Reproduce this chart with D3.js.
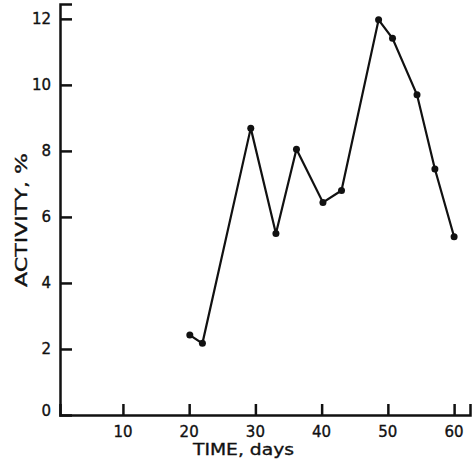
<!DOCTYPE html>
<html>
<head>
<meta charset="utf-8">
<script src="https://cdn.jsdelivr.net/npm/d3@7"></script>
<style>
body{margin:0;background:#fff;}
text{font-family:"DejaVu Sans",Arial,sans-serif;fill:#111;stroke:#111;stroke-width:0.35px;}
</style>
</head>
<body>
<div id="chart"></div>
<script>
// time (days) and activity (%)
var days = [20.1, 22.0, 29.3, 33.1, 36.2, 40.2, 43.0, 48.6, 50.7, 54.4, 57.1, 60.0];
var activity = [2.42, 2.17, 8.69, 5.5, 8.05, 6.44, 6.8, 11.97, 11.41, 9.7, 7.45, 5.4];
var xTicks = [10, 20, 30, 40, 50, 60];
var yTicks = [0, 2, 4, 6, 8, 10, 12];

var w = 473, h = 465;

var x = d3.scaleLinear().domain([0.5, 62.4]).range([60, 470]);
var y = d3.scaleLinear().domain([0, 12.45]).range([415, 4]);

var svg = d3.select("#chart").append("svg")
	.attr("width", w)
	.attr("height", h);

// axes: ticks point inward
var xAxis = svg.append("g")
	.attr("transform", "translate(0," + y(0) + ")")
	.call(d3.axisTop(x).tickValues(xTicks).tickSize(11).tickFormat(""));
xAxis.select(".domain").attr("stroke", "#111").attr("stroke-width", 2.5);
xAxis.selectAll(".tick line").attr("stroke", "#111").attr("stroke-width", 2.5);

var yAxis = svg.append("g")
	.attr("transform", "translate(" + x(0.5) + ",0)")
	.call(d3.axisRight(y).tickValues(yTicks.filter(function(d){return d > 0})).tickSize(12).tickFormat(""));
yAxis.select(".domain").attr("stroke", "#111").attr("stroke-width", 2.5);
yAxis.selectAll(".tick line").attr("stroke", "#111").attr("stroke-width", 2.5);

// tick labels
svg.selectAll(".xl").data(xTicks).enter().append("text")
	.attr("x", function(d){return x(d)})
	.attr("y", 437)
	.attr("text-anchor", "middle")
	.style("font-size", "15px")
	.text(function(d){return d});

svg.selectAll(".yl").data(yTicks).enter().append("text")
	.attr("x", 51)
	.attr("y", function(d){return d == 0 ? y(d) + 1 : y(d) + 5})
	.attr("text-anchor", "end")
	.style("font-size", "15px")
	.text(function(d){return d});

svg.append("text")
	.attr("x", 193).attr("y", 455)
	.attr("textLength", 101)
	.attr("lengthAdjust", "spacingAndGlyphs")
	.style("font-size", "16px")
	.text("TIME, days");

svg.append("text")
	.attr("transform", "translate(27,287) rotate(-90)")
	.attr("textLength", 134)
	.attr("lengthAdjust", "spacingAndGlyphs")
	.style("font-size", "15px")
	.text("ACTIVITY, %");

var pts = d3.zip(days, activity);

svg.append("path")
	.datum(pts)
	.attr("fill", "none")
	.attr("stroke", "#111")
	.attr("stroke-width", 2.2)
	.attr("d", d3.line().x(function(d){return x(d[0])}).y(function(d){return y(d[1])}));

svg.selectAll("circle").data(pts).enter().append("circle")
	.attr("cx", function(d){return x(d[0])})
	.attr("cy", function(d){return y(d[1])})
	.attr("r", 3.5)
	.attr("fill", "#111");
</script>
</body>
</html>
